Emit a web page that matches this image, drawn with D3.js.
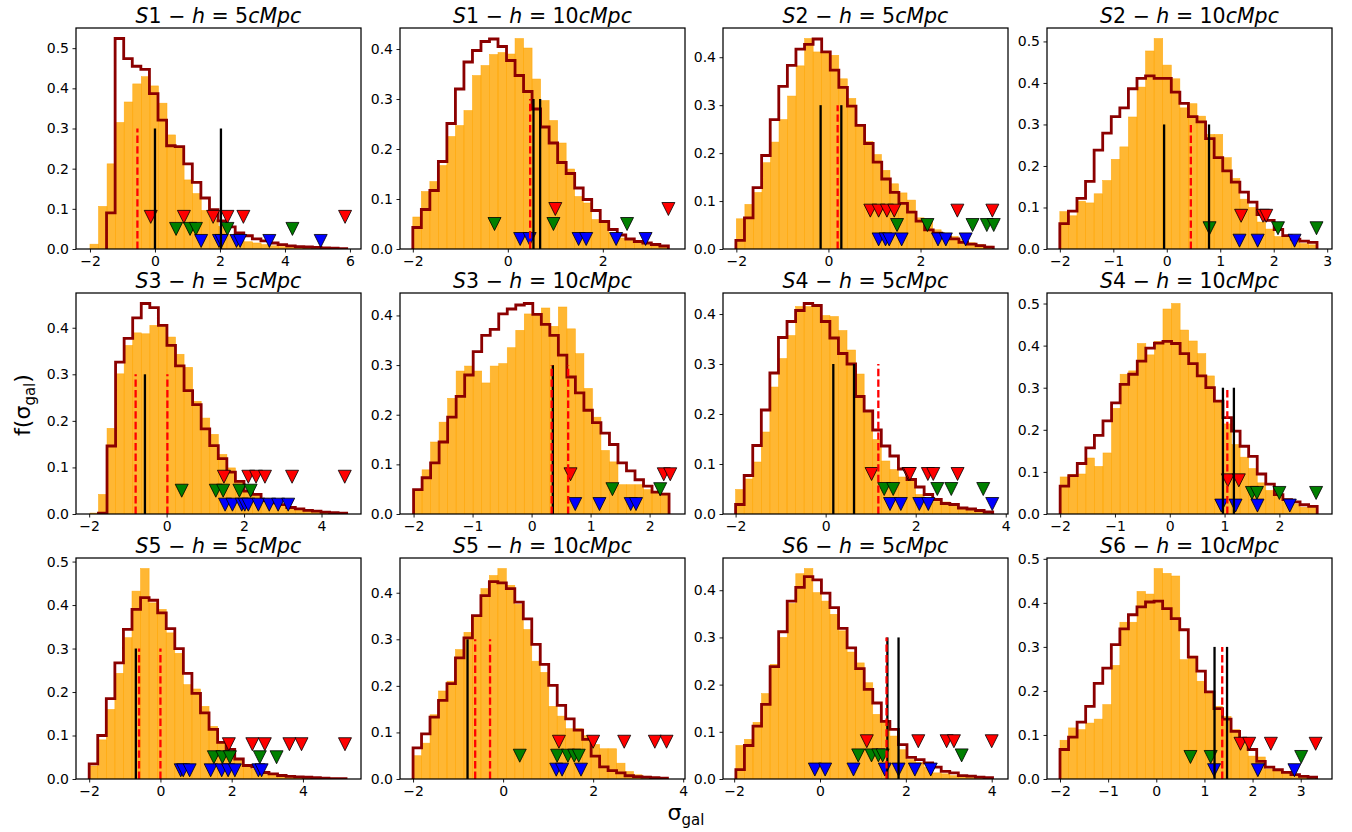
<!DOCTYPE html>
<html><head><meta charset="utf-8">
<script src="https://cdn.jsdelivr.net/npm/d3@7"></script>
<style>
body{margin:0;background:#fff}
text{font-family:"DejaVu Sans",sans-serif}
</style>
</head><body>
<svg id="c" width="1352" height="832"></svg>
<script>
// ---------------- DATA ----------------
const samples = ["S1","S1","S2","S2","S3","S3","S4","S4","S5","S5","S6","S6"];
const scales  = ["5","10","5","10","5","10","5","10","5","10","5","10"];

const xLimits = [[-2.43,6.34],[-2.27,3.73],[-2.29,3.9],[-2.24,3.09],
                 [-2.34,5.02],[-2.23,2.6],[-2.28,4.05],[-2.24,2.96],
                 [-2.37,5.63],[-2.29,4.04],[-2.26,4.38],[-2.27,3.65]];
const xTicks = [[-2,0,2,4,6],[-2,0,2],[-2,0,2],[-2,-1,0,1,2,3],
                [-2,0,2,4],[-2,-1,0,1,2],[-2,0,2,4],[-2,-1,0,1,2],
                [-2,0,2,4],[-2,0,2,4],[-2,0,2,4],[-2,-1,0,1,2,3]];

// orange histograms: bin range and heights
const histRange = [[-2,5.9],[-2,3.38],[-2,3.56],[-2,2.81],[-1.98,4.65],[-2,2.33],
                   [-2,3.71],[-2,2.69],[-2,5.21],[-2,3.65],[-1.96,4.02],[-2,3.33]];
const histS1h5  = [0.012,0.106,0.212,0.315,0.366,0.411,0.429,0.406,0.363,0.284,0.253,0.172,0.138,0.096,0.073,0.056,0.036,0.023,0.018,0.015,0.011,0.008,0.006,0.005,0.004,0.003,0.002,0.002,0.001,0.001];
const histS1h10 = [0.064,0.115,0.135,0.167,0.225,0.247,0.277,0.347,0.367,0.389,0.393,0.39,0.421,0.402,0.34,0.297,0.257,0.212,0.16,0.105,0.092,0.059,0.055,0.032,0.022,0.017,0.013,0.009,0.006,0.004];
const histS2h5  = [0.063,0.093,0.118,0.18,0.223,0.27,0.319,0.382,0.439,0.411,0.411,0.404,0.355,0.314,0.26,0.224,0.197,0.164,0.136,0.117,0.102,0.065,0.058,0.04,0.033,0.026,0.02,0.013,0.009,0.006];
const histS2h10 = [0.09,0.08,0.115,0.111,0.133,0.165,0.216,0.246,0.318,0.39,0.477,0.507,0.443,0.41,0.34,0.35,0.32,0.276,0.276,0.22,0.17,0.12,0.1,0.065,0.048,0.03,0.03,0.02,0.013,0.01];
const histS3h5  = [0.002,0.042,0.184,0.301,0.362,0.389,0.387,0.405,0.405,0.38,0.343,0.315,0.242,0.206,0.171,0.128,0.099,0.07,0.049,0.042,0.034,0.025,0.02,0.015,0.012,0.009,0.006,0.004,0.003,0.002];
const histS3h10 = [0.047,0.089,0.145,0.185,0.233,0.288,0.298,0.288,0.264,0.298,0.303,0.335,0.37,0.403,0.40,0.415,0.378,0.417,0.373,0.323,0.253,0.195,0.128,0.105,0.059,0.059,0.059,0.049,0.046,0.042];
const histS4h5  = [0.049,0.07,0.104,0.164,0.254,0.311,0.357,0.415,0.415,0.415,0.397,0.395,0.367,0.328,0.28,0.203,0.149,0.106,0.089,0.074,0.067,0.039,0.032,0.025,0.024,0.017,0.013,0.01,0.007,0.004];
const histS4h10 = [0.088,0.094,0.095,0.133,0.113,0.145,0.251,0.332,0.34,0.405,0.378,0.41,0.487,0.5,0.437,0.411,0.381,0.328,0.268,0.214,0.165,0.135,0.108,0.074,0.056,0.042,0.03,0.024,0.016,0.016];
const histS5h5  = [0.03,0.09,0.16,0.243,0.325,0.432,0.484,0.405,0.39,0.336,0.289,0.217,0.207,0.167,0.121,0.083,0.061,0.045,0.033,0.023,0.018,0.012,0.008,0.006,0.005,0.004,0.003,0.002,0.002,0.001];
const histS5h10 = [0.05,0.077,0.138,0.189,0.21,0.278,0.315,0.351,0.409,0.437,0.452,0.416,0.375,0.321,0.253,0.229,0.156,0.135,0.108,0.108,0.093,0.074,0.065,0.065,0.034,0.016,0.009,0.006,0.004,0.003];
const histS6h5  = [0.071,0.084,0.12,0.181,0.243,0.3,0.372,0.435,0.446,0.395,0.377,0.349,0.314,0.269,0.246,0.204,0.137,0.122,0.091,0.062,0.041,0.035,0.025,0.013,0.011,0.007,0.005,0.004,0.003,0.002];
const histS6h10 = [0.088,0.116,0.112,0.127,0.136,0.169,0.258,0.356,0.356,0.426,0.42,0.478,0.467,0.461,0.271,0.279,0.222,0.199,0.165,0.142,0.112,0.083,0.052,0.05,0.023,0.02,0.015,0.01,0.008,0.006];

// dark-red step histograms: bin range and heights
const stepRange = [[-1.49,5.9],[-2,3.38],[-2.01,3.58],[-2,2.81],[-1.76,4.65],[-2,2.33],
                   [-2,3.71],[-2,2.69],[-2,5.21],[-2,3.65],[-1.96,4.02],[-2,3.33]];
const stepS1h5  = [0.09,0.524,0.474,0.455,0.447,0.387,0.321,0.257,0.255,0.212,0.166,0.127,0.098,0.07,0.055,0.04,0.033,0.025,0.02,0.015,0.011,0.008,0.006,0.005,0.004,0.003,0.002,0.001];
const stepS1h10 = [0.043,0.079,0.117,0.175,0.251,0.32,0.374,0.397,0.415,0.42,0.405,0.377,0.347,0.315,0.28,0.244,0.212,0.173,0.151,0.122,0.099,0.077,0.055,0.039,0.028,0.02,0.015,0.012,0.009,0.006];
const stepS2h5  = [0.018,0.065,0.128,0.195,0.27,0.339,0.383,0.417,0.427,0.438,0.411,0.373,0.337,0.298,0.258,0.22,0.181,0.146,0.118,0.095,0.077,0.058,0.04,0.033,0.025,0.021,0.014,0.01,0.007,0.004];
const stepS2h10 = [0.061,0.091,0.122,0.163,0.238,0.279,0.319,0.34,0.386,0.411,0.417,0.411,0.411,0.378,0.351,0.319,0.306,0.266,0.22,0.188,0.161,0.137,0.113,0.083,0.069,0.047,0.032,0.024,0.019,0.016];
const stepS3h5  = [0.002,0.146,0.326,0.377,0.421,0.452,0.443,0.405,0.362,0.318,0.265,0.235,0.183,0.147,0.119,0.09,0.07,0.049,0.042,0.029,0.024,0.02,0.014,0.011,0.008,0.006,0.004,0.003,0.002];
const stepS3h10 = [0.049,0.073,0.103,0.145,0.195,0.237,0.28,0.327,0.36,0.372,0.403,0.413,0.421,0.424,0.402,0.382,0.36,0.32,0.276,0.244,0.209,0.184,0.163,0.14,0.103,0.087,0.069,0.056,0.044,0.04];
const stepS4h5  = [0.019,0.077,0.137,0.208,0.282,0.353,0.385,0.407,0.421,0.417,0.385,0.352,0.321,0.3,0.235,0.206,0.168,0.136,0.116,0.09,0.069,0.054,0.039,0.029,0.021,0.019,0.012,0.01,0.007,0.004];
const stepS4h10 = [0.066,0.091,0.12,0.157,0.187,0.221,0.264,0.308,0.332,0.363,0.394,0.406,0.41,0.405,0.381,0.357,0.328,0.3,0.268,0.229,0.197,0.161,0.137,0.095,0.071,0.046,0.034,0.029,0.022,0.018];
const stepS5h5  = [0.035,0.1,0.185,0.267,0.344,0.39,0.417,0.411,0.382,0.346,0.3,0.243,0.197,0.152,0.114,0.084,0.068,0.046,0.031,0.028,0.015,0.012,0.008,0.006,0.005,0.004,0.003,0.002,0.001,0.001];
const stepS5h10 = [0.067,0.097,0.133,0.169,0.205,0.26,0.303,0.351,0.394,0.424,0.421,0.409,0.38,0.344,0.289,0.246,0.201,0.158,0.129,0.105,0.085,0.049,0.026,0.018,0.013,0.007,0.005,0.004,0.003,0.002];
const stepS6h5  = [0.02,0.071,0.112,0.158,0.238,0.312,0.377,0.406,0.429,0.422,0.394,0.363,0.319,0.278,0.234,0.19,0.161,0.122,0.105,0.073,0.046,0.041,0.034,0.025,0.016,0.013,0.007,0.006,0.004,0.003];
const stepS6h10 = [0.067,0.095,0.129,0.165,0.217,0.252,0.305,0.341,0.373,0.391,0.402,0.404,0.387,0.364,0.339,0.277,0.245,0.198,0.16,0.136,0.108,0.091,0.067,0.04,0.027,0.021,0.015,0.01,0.006,0.004];

// vertical reference lines (height 0.3)
const blackLines = [[0.0,2.03],[0.54,0.68],[-0.17,0.28],[-0.05,0.79],[-0.56],[0.36],
                    [0.17,0.63],[0.97,1.17],[-0.69],[-0.79],[1.57,1.83],[1.21,1.47]];
const redDashed  = [[-0.54],[0.47],[0.2],[0.45],[-0.8,0.02],[0.34,0.62],
                    [1.17],[1.05],[-0.6,0.0],[-0.62,-0.29],[1.55],[1.37]];
const lineTop = 0.3;

// triangle markers (levels 0.08 red, 0.05 green, 0.02 blue)
const redMarks = [[-0.13,0.89,1.79,2.23,2.72,5.85],[1.0,3.38],[0.91,1.09,1.27,1.43,2.8,3.56],[1.39,1.8,1.86],
                  [1.48,2.11,2.31,2.54,3.24,4.6],[0.66,2.24,2.35],[1.02,1.84,1.87,2.27,2.39,2.93],[1.06,1.26],
                  [1.92,2.58,2.93,3.62,3.96,5.18],[1.24,2.0,2.69,3.37,3.63],[1.09,2.29,2.95,3.12,4.0],[1.75,1.93,2.38,3.31]];
const greenMarks = [[0.65,1.08,1.26,2.23,4.23],[-0.28,0.96,2.51],[1.49,2.15,3.13,3.44,3.59],[0.8,2.08,2.8],
                    [0.39,1.27,1.46,1.88,2.17],[1.37,2.18],[1.3,1.5,2.48,2.79,3.5],[1.5,1.59,2.0,2.67],
                    [1.5,1.74,1.95,2.79,3.26],[0.37,1.2,1.44,1.58,1.68],[0.89,1.2,1.36,1.46,3.3],[0.71,1.13,3.01]];
const blueMarks = [[1.42,1.97,2.05,2.51,2.62,3.52,5.1],[0.26,0.46,1.49,1.65,2.28,2.9],[1.09,1.24,1.32,1.59,2.38,2.55,2.98],[1.36,1.7,2.39],
                   [1.51,1.7,1.94,2.02,2.11,2.37,2.65,2.88,3.14],[0.74,1.15,1.68,1.77],[1.43,1.67,2.08,2.28,3.7],[0.94,1.2,1.6,2.19],
                   [0.57,0.64,0.82,1.41,1.72,1.9,2.09,2.75,2.84],[1.18,1.31,1.73],[-0.12,0.12,0.78,1.51,1.83,2.21,2.58],[1.2,2.11,2.87]];
const markLevels = [0.08, 0.05, 0.02];

const hists = [histS1h5,histS1h10,histS2h5,histS2h10,histS3h5,histS3h10,histS4h5,histS4h10,histS5h5,histS5h10,histS6h5,histS6h10];
const steps = [stepS1h5,stepS1h10,stepS2h5,stepS2h10,stepS3h5,stepS3h10,stepS4h5,stepS4h10,stepS5h5,stepS5h10,stepS6h5,stepS6h10];

// ---------------- LAYOUT ----------------
const svg = d3.select("#c");
const lefts = [76,400,723,1047], tops = [28,293,558], W = 285, H = 221;
const defs = svg.append("defs");

function bins(range, vals){
  const w = (range[1]-range[0])/vals.length;
  return vals.map((h,i)=>({x0:range[0]+i*w, x1:range[0]+(i+1)*w, h}));
}

for (let i=0;i<12;i++){
  const col=i%4,row=Math.floor(i/4);
  const g = svg.append("g").attr("transform",`translate(${lefts[col]},${tops[row]})`);
  const x = d3.scaleLinear().domain(xLimits[i]).range([0,W]);
  const ymax = 1.05*d3.max([...hists[i],...steps[i]]);
  const y = d3.scaleLinear().domain([0,ymax]).range([H,0]);

  defs.append("clipPath").attr("id","clip"+i).append("rect").attr("width",W).attr("height",H);
  const plot = g.append("g").attr("clip-path",`url(#clip${i})`);

  // orange histogram
  plot.selectAll("rect.bar").data(bins(histRange[i],hists[i])).join("rect")
    .attr("x",d=>x(d.x0)).attr("width",d=>x(d.x1)-x(d.x0))
    .attr("y",d=>y(d.h)).attr("height",d=>H-y(d.h))
    .attr("fill","rgba(255,165,0,0.8)").attr("stroke","rgba(255,165,0,0.8)").attr("stroke-width",0.6);

  // step histogram
  const sb = bins(stepRange[i],steps[i]);
  const pts = [[sb[0].x0,0]];
  sb.forEach(d=>{pts.push([d.x0,d.h]);pts.push([d.x1,d.h]);});
  pts.push([sb[sb.length-1].x1,0]);
  plot.append("path").attr("d",d3.line().x(d=>x(d[0])).y(d=>y(d[1]))(pts))
    .attr("fill","none").attr("stroke","#8b0000").attr("stroke-width",2.8).attr("stroke-linejoin","miter");

  // triangles
  const tri = "M-6.5,-6.5L6.5,-6.5L0,6.5Z";
  [[redMarks,"#ff0000",0],[greenMarks,"#008000",1],[blueMarks,"#0000ff",2]].forEach(([arr,c,k])=>{
    plot.selectAll(null).data(arr[i]).join("path").attr("d",tri)
      .attr("transform",v=>`translate(${x(v)},${y(markLevels[k])})`)
      .attr("fill",c).attr("stroke","#000").attr("stroke-width",0.8);
  });

  // vertical lines
  plot.selectAll(null).data(blackLines[i]).join("line")
    .attr("x1",v=>x(v)).attr("x2",v=>x(v)).attr("y1",y(0)).attr("y2",y(lineTop))
    .attr("stroke","#000").attr("stroke-width",2.3);
  plot.selectAll(null).data(redDashed[i]).join("line")
    .attr("x1",v=>x(v)).attr("x2",v=>x(v)).attr("y1",y(0)).attr("y2",y(lineTop))
    .attr("stroke","#ff0000").attr("stroke-width",2.3).attr("stroke-dasharray","7.4,3.2");

  // axes
  const xa = g.append("g").attr("transform",`translate(0,${H})`)
    .call(d3.axisBottom(x).tickValues(xTicks[i]).tickFormat(d3.format("d")).tickSize(3.5).tickPadding(3.5));
  const yt = d3.range(0,Math.floor(ymax*10+1e-6)+1).map(k=>k/10);
  const ya = g.append("g")
    .call(d3.axisLeft(y).tickValues(yt).tickFormat(d3.format(".1f")).tickSize(3.5).tickPadding(3.5));
  [xa,ya].forEach(a=>{
    a.select(".domain").remove();
    a.selectAll(".tick line").attr("stroke","#000").attr("stroke-width",0.9);
    a.selectAll(".tick text").attr("fill","#000").style("font-size","14px").style("font-family","DejaVu Sans");
  });

  g.append("rect").attr("width",W).attr("height",H).attr("fill","none")
    .attr("stroke","#000").attr("stroke-width",1.25);

  // title
  const t = g.append("text").attr("x",W/2).attr("y",-5).attr("text-anchor","middle")
    .style("font-size","20.5px").attr("fill","#000");
  t.append("tspan").attr("font-style","italic").text(samples[i][0]);
  t.append("tspan").text(samples[i].slice(1)+" − ");
  t.append("tspan").attr("font-style","italic").text("h");
  t.append("tspan").text(" = "+scales[i]);
  t.append("tspan").attr("font-style","italic").text("cMpc");
}

// global labels
const xl = svg.append("text").attr("x",686).attr("y",820).attr("text-anchor","middle")
  .style("font-size","22px").attr("fill","#000");
xl.append("tspan").text("σ");
xl.append("tspan").attr("dy",5).style("font-size","15px").text("gal");

const yl = svg.append("text").attr("transform","translate(30,405) rotate(-90)").attr("text-anchor","middle")
  .style("font-size","22px").attr("fill","#000");
yl.append("tspan").text("f(σ");
yl.append("tspan").attr("dy",5).style("font-size","15px").text("gal");
yl.append("tspan").attr("dy",-5).text(")");
</script>
</body></html>
